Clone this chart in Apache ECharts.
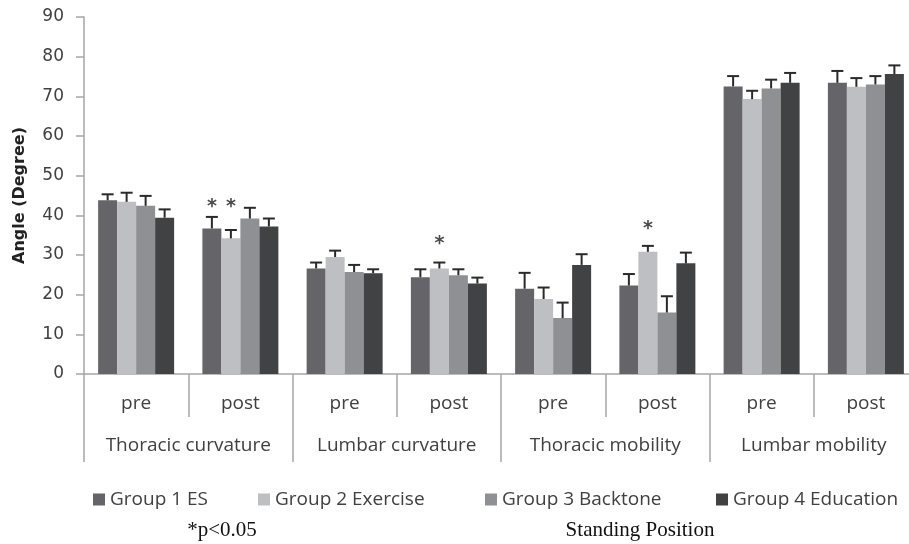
<!DOCTYPE html>
<html><head><meta charset="utf-8">
<script src="https://cdn.jsdelivr.net/npm/echarts@6/dist/echarts.min.js"></script>
<style>html,body{margin:0;padding:0;background:#fff}#c{width:909px;height:544px}</style>
</head><body><div id="c"></div>
<script>
var subCats = ['pre','post','pre','post','pre','post','pre','post'];
var groupCats = ['Thoracic curvature','Lumbar curvature','Thoracic mobility','Lumbar mobility'];
var seriesNames = ['Group 1 ES','Group 2 Exercise','Group 3 Backtone','Group 4 Education'];
var g1Mean = [43.8, 36.7, 26.6, 24.4, 21.5, 22.3, 72.5, 73.4];
var g1Err  = [45.3, 39.6, 28.1, 26.4, 25.5, 25.2, 75.1, 76.4];
var g2Mean = [43.4, 34.2, 29.5, 26.6, 18.9, 30.8, 69.3, 72.4];
var g2Err  = [45.7, 36.3, 31.1, 28.1, 21.8, 32.3, 71.4, 74.6];
var g3Mean = [42.4, 39.2, 25.7, 24.9, 14.1, 15.5, 72.0, 73.0];
var g3Err  = [44.9, 41.9, 27.5, 26.4, 18.0, 19.6, 74.2, 75.1];
var g4Mean = [39.4, 37.2, 25.4, 22.8, 27.5, 27.9, 73.4, 75.6];
var g4Err  = [41.5, 39.2, 26.4, 24.3, 30.2, 30.6, 75.9, 77.8];
// significance markers: [category index, group index, value position of '*']
var sigCat   = [1, 1, 3, 5];
var sigGroup = [0, 1, 1, 1];
var sigValue = [43.3, 43.3, 33.9, 37.9];
var yTicks = [0,10,20,30,40,50,60,70,80,90];

var colors = ['#656569','#bdbfc2','#8e9093','#404244'];
var means = [g1Mean,g2Mean,g3Mean,g4Mean];
var errs = [g1Err,g2Err,g3Err,g4Err];
var BAR_W = 19;
var axisGray = '#a6a6a6';
var textCol = '#404040';

var chart = echarts.init(document.getElementById('c'));
var series = [];
means.forEach(function(m, g){
  series.push({type:'bar', name:seriesNames[g], data:m, barWidth:BAR_W, barGap:'0%',
    itemStyle:{color:colors[g]}, xAxisIndex:0, yAxisIndex:0, z:2});
});
means.forEach(function(m, g){
  series.push({type:'custom', name:'err'+g, xAxisIndex:0, yAxisIndex:0, z:3,
    data: m.map(function(v,i){return [i, v, errs[g][i]];}),
    renderItem: function(params, api){
      var i = api.value(0);
      var off = (g - 1.5) * BAR_W;
      var p0 = api.coord([i, api.value(1)]);
      var p1 = api.coord([i, api.value(2)]);
      var x = p0[0] + off;
      return {type:'group', children:[
        {type:'line', shape:{x1:x, y1:p0[1], x2:x, y2:p1[1]}, style:{stroke:'#2a2a2a', lineWidth:2}},
        {type:'line', shape:{x1:x-6, y1:p1[1], x2:x+6, y2:p1[1]}, style:{stroke:'#2a2a2a', lineWidth:2}}
      ]};
    }
  });
});
series.push({type:'custom', name:'sig', xAxisIndex:0, yAxisIndex:0, z:4,
  data: sigCat.map(function(c,k){return [c, sigGroup[k], sigValue[k]];}),
  renderItem: function(params, api){
    var p = api.coord([api.value(0), api.value(2)]);
    var x = p[0] + (api.value(1) - 1.5) * BAR_W;
    return {type:'text', style:{text:'*', x:x, y:p[1]+5, align:'center', verticalAlign:'middle',
      font:'bold 19px "DejaVu Sans"', fill:'#4a4a4a'}};
  }
});

var legends = seriesNames.map(function(n, g){
  var lefts = [93, 258, 485, 716];
  return {data:[n], left:lefts[g], top:490, padding:0, itemWidth:12, itemHeight:12, itemGap:0,
    icon:'rect', selectedMode:false,
    textStyle:{fontFamily:'Open Sans', fontSize:19, color:textCol}};
});

chart.setOption({
  animation:false,
  backgroundColor:'#fff',
  color:colors,
  grid:{left:84, width:834, top:17, height:357, outerBoundsMode:'none', containLabel:false},
  legend: legends,
  xAxis:[
    {type:'category', data:subCats, position:'bottom',
     axisLine:{show:true, lineStyle:{color:axisGray, width:1.5}},
     axisTick:{show:true, length:43, lineStyle:{color:axisGray, width:1.5}},
     axisLabel:{show:true, interval:0, margin:20, fontFamily:'Open Sans', fontSize:19, color:textCol}},
    {type:'category', data:groupCats, position:'bottom',
     axisLine:{show:false},
     axisTick:{show:true, length:88, lineStyle:{color:axisGray, width:1.5}},
     axisLabel:{show:true, interval:0, margin:62, fontFamily:'Open Sans', fontSize:19, color:textCol}}
  ],
  yAxis:{type:'value', min:0, max:90, interval:10,
    name:'Angle (Degree)', nameLocation:'middle', nameGap:56, nameRotate:90,
    nameTextStyle:{fontFamily:'DejaVu Sans', fontWeight:'bold', fontSize:16, color:'#222'},
    axisLine:{show:true, lineStyle:{color:axisGray, width:1.5}},
    axisTick:{show:true, length:8, lineStyle:{color:axisGray, width:1.5}},
    splitLine:{show:false},
    axisLabel:{margin:20, fontFamily:'DejaVu Sans', fontSize:17, color:textCol,
      formatter:function(v){return yTicks.indexOf(v)>=0 ? String(v) : '';}}
  },
  graphic:[
    {type:'text', x:222, y:530, style:{text:'*p<0.05', font:'21px "Liberation Serif"', fill:'#111', align:'center', verticalAlign:'middle'}},
    {type:'text', x:640, y:530, style:{text:'Standing Position', font:'21px "Liberation Serif"', fill:'#111', align:'center', verticalAlign:'middle'}}
  ],
  series:series
});
</script></body></html>
